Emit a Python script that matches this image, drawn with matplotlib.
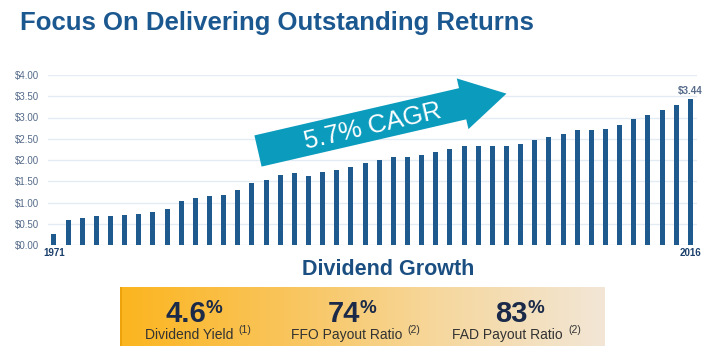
import numpy as np
import matplotlib
matplotlib.use('Agg')
import matplotlib.pyplot as plt
from matplotlib.patches import Polygon
from matplotlib.colors import LinearSegmentedColormap

plt.rcParams['font.family'] = ['Liberation Sans', 'DejaVu Sans']

W, H = 710, 353

years = list(range(1971, 2017))
dividends = [0.26, 0.58, 0.635, 0.675, 0.69, 0.714, 0.737, 0.784, 0.84, 1.04,
             1.10, 1.145, 1.18, 1.30, 1.45, 1.54, 1.64, 1.69, 1.62, 1.71,
             1.765, 1.84, 1.92, 2.01, 2.08, 2.08, 2.11, 2.19, 2.27, 2.34,
             2.34, 2.34, 2.34, 2.38, 2.46, 2.53, 2.61, 2.70, 2.71, 2.74,
             2.83, 2.96, 3.05, 3.18, 3.30, 3.44]
yticks = [0.0, 0.5, 1.0, 1.5, 2.0, 2.5, 3.0, 3.5, 4.0]
ytick_labels = ['$%.2f' % v for v in yticks]

metric_values = ['4.6', '74', '83']
metric_labels = ['Dividend Yield', 'FFO Payout Ratio', 'FAD Payout Ratio']
metric_notes = ['(1)', '(2)', '(2)']

bar_color = '#1f5a8e'
title_color = '#1c5890'
tick_color = '#566b8a'
teal = '#0a9bbd'
navy = '#1b2a48'


def fx(px):
    return px / W


def fy(py):
    return 1 - py / H


fig = plt.figure(figsize=(7.1, 3.53), dpi=100)

# main bar chart
ax = fig.add_axes([fx(48), fy(245), fx(697) - fx(48), fy(75) - fy(245)])
ax.bar(years, dividends, width=0.36, color=bar_color, zorder=3)
ax.set_xlim(1970.58, 2016.47)
ax.set_ylim(0, 4)
ax.set_yticks(yticks)
ax.set_yticklabels(ytick_labels, fontsize=7, color=tick_color)
ax.set_xticks([])
ax.tick_params(axis='y', length=0, pad=6.5)
ax.grid(axis='y', color='#e3ebf4', linewidth=1, zorder=0)
for s in ax.spines.values():
    s.set_visible(False)

ax.text(years[0], -0.08, str(years[0]), ha='center', va='top', fontsize=7,
        fontweight='bold', color='#1b3f6b')
ax.text(years[-1], -0.08, str(years[-1]), ha='center', va='top', fontsize=7,
        fontweight='bold', color='#1b3f6b')
ax.text(years[-1], dividends[-1] + 0.07, '$%.2f' % dividends[-1], ha='center',
        va='bottom', fontsize=7, fontweight='bold', color=tick_color)

# titles
fig.text(fx(20), fy(30), 'Focus On Delivering Outstanding Returns', fontsize=18.5,
         fontweight='bold', color=title_color, ha='left', va='baseline')
fig.text(fx(388), fy(275), 'Dividend Growth', fontsize=15.5, fontweight='bold',
         color='#1b4f82', ha='center', va='baseline')

# CAGR arrow
a = np.deg2rad(13)
u = np.array([np.cos(a), -np.sin(a)])
n = np.array([np.sin(a), np.cos(a)])
T = np.array([258.0, 151.0])
L, HL, sw, hw = 255, 45, 16, 26
pts = [T - sw * n, T + (L - HL) * u - sw * n, T + (L - HL) * u - hw * n,
       T + L * u, T + (L - HL) * u + hw * n, T + (L - HL) * u + sw * n, T + sw * n]
pts = [(fx(p[0]), fy(p[1])) for p in pts]
fig.patches.append(Polygon(pts, closed=True, facecolor=teal, edgecolor='none',
                           transform=fig.transFigure, figure=fig, zorder=5))
fig.text(fx(373), fy(126), '5.7% CAGR', fontsize=18.5, color='white', rotation=13,
         rotation_mode='anchor', ha='center', va='center', zorder=6)

# gradient box
bx = fig.add_axes([fx(120), fy(346), fx(605) - fx(120), fy(287) - fy(346)])
cmap = LinearSegmentedColormap.from_list('g', ['#fcb51f', '#f9c45a', '#f6d89f', '#f2e6d6'])
grad = np.linspace(0, 1, 256).reshape(1, -1)
bx.imshow(grad, cmap=cmap, aspect='auto', extent=[0, 1, 0, 1])
bx.axvline(0.002, color='#eea20c', linewidth=1.5)
bx.set_axis_off()

num_right = [206, 360, 528]
lab_right = [233, 402, 563]
for v, lab, note, nr, lr in zip(metric_values, metric_labels, metric_notes, num_right, lab_right):
    fig.text(fx(nr), fy(322), v, fontsize=21, fontweight='bold', color=navy,
             ha='right', va='baseline')
    fig.text(fx(nr), fy(313), '%', fontsize=13.5, fontweight='bold', color=navy,
             ha='left', va='baseline')
    fig.text(fx(lr), fy(339), lab, fontsize=10, color='#333333',
             ha='right', va='baseline')
    fig.text(fx(lr + 5), fy(333), note, fontsize=7.5, color='#333333',
             ha='left', va='baseline')

fig.savefig('out.png', dpi=100)
